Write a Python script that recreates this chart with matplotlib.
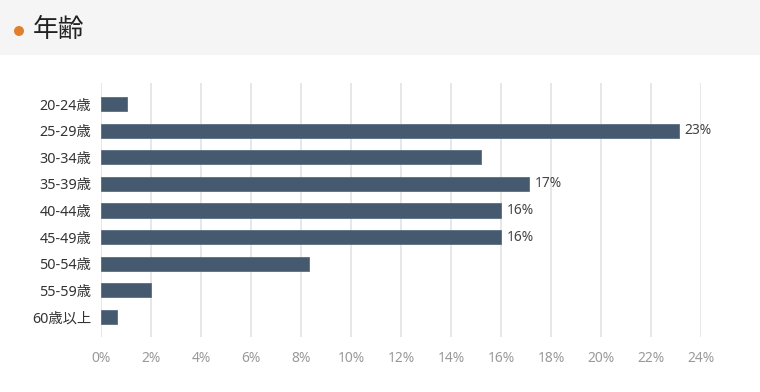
import matplotlib
matplotlib.use("Agg")
import matplotlib.pyplot as plt
from matplotlib.patches import Rectangle, Ellipse

categories = ["20-24歳", "25-29歳", "30-34歳", "35-39歳", "40-44歳",
              "45-49歳", "50-54歳", "55-59歳", "60歳以上"]
values = [1.05, 23.1, 15.2, 17.1, 16.0, 16.0, 8.3, 2.0, 0.65]
value_labels = ["", "23%", "", "17%", "16%", "16%", "", "", ""]
xticks = list(range(0, 25, 2))
xtick_labels = [f"{t}%" for t in xticks]
title = "年齢"

plt.rcParams['font.family'] = ['Noto Sans', 'Noto Sans CJK JP', 'DejaVu Sans']

W, H = 760, 392
fig = plt.figure(figsize=(W / 100, H / 100), dpi=100)
fig.patch.set_facecolor("white")

# header band
fig.patches.append(Rectangle((0, 1 - 55 / H), 1, 55 / H, transform=fig.transFigure,
                             facecolor="#f5f5f5", edgecolor="none", zorder=0))
fig.patches.append(Ellipse((19 / W, 1 - 31 / H), 10 / W, 10 / H, transform=fig.transFigure,
                           facecolor="#e07f2c", edgecolor="none", zorder=1))
fig.text(33 / W, 1 - 30 / H, title, fontsize=18.5, color="#222222",
         va="center", ha="left", family=['Noto Sans CJK JP', 'DejaVu Sans'])

left, right = 101 / W, 701 / W
top, bottom = 1 - 83 / H, 1 - 337 / H
ax = fig.add_axes([left, bottom, right - left, top - bottom])

y = list(range(len(categories)))
ax.barh(y, values, height=0.53, color="#45596f", edgecolor="#5a6d82",
        linewidth=0.6, zorder=3)
ax.set_xlim(0, 24)
ax.set_ylim(8.75, -0.79)
ax.set_yticks(y)
ax.set_yticklabels(categories, fontsize=10.3, color="#333333")
ax.set_xticks(xticks)
ax.set_xticklabels(xtick_labels, fontsize=10, color="#9a9a9a")
ax.tick_params(axis="y", length=0, pad=7)
ax.tick_params(axis="x", length=0, pad=10)
ax.grid(axis="x", color="#e5e5e5", linewidth=1.3, zorder=0)
for s in ax.spines.values():
    s.set_visible(False)

for yi, v, lab in zip(y, values, value_labels):
    if lab:
        ax.text(v + 0.25, yi, lab, va="center", ha="left", fontsize=10,
                color="#444444", clip_on=False)

fig.savefig("out.png", dpi=100)
